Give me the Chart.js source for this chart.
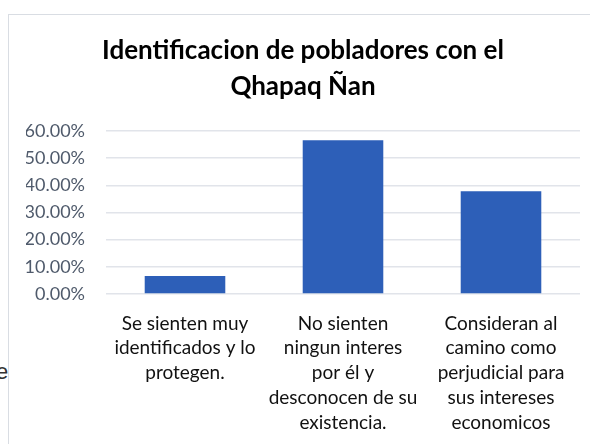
<!DOCTYPE html>
<html>
<head>
<meta charset="utf-8">
<script src="https://cdn.jsdelivr.net/npm/chart.js@4.4.1/dist/chart.umd.min.js"></script>
<style>
  html, body { margin: 0; padding: 0; background: #fff; }
  #wrap { position: relative; width: 590px; height: 444px; overflow: hidden; }
  #frame { position: absolute; left: 8px; top: 14px; width: 600px; height: 450px;
           border-left: 1px solid #d9dde3; border-top: 1px solid #d9dde3; box-sizing: border-box; }
  #stray { position: absolute; left: -4px; top: 359px; font: 22px "Liberation Sans", sans-serif; color: #333; }
  canvas { position: absolute; left: 0; top: 0; }
</style>
</head>
<body>
<div id="wrap">
  <div id="frame"></div>
  <span id="stray">e</span>
  <canvas id="c" width="590" height="444"></canvas>
</div>
<script>
const titleLines = ["Identificacion de pobladores con el", "Qhapaq Ñan"];
const categories = [
  ["Se sienten muy", "identificados y lo", "protegen."],
  ["No sienten", "ningun interes", "por él y", "desconocen de su", "existencia."],
  ["Consideran al", "camino como", "perjudicial para", "sus intereses", "economicos"]
];
const values = [6.6, 56.6, 37.8];
const yTicks = [0, 10, 20, 30, 40, 50, 60];

const FONT = "Lato, 'Open Sans', sans-serif";

new Chart(document.getElementById('c'), {
  type: 'bar',
  data: {
    labels: categories,
    datasets: [{
      data: values,
      backgroundColor: '#2d5fb8',
      borderWidth: 0,
      categoryPercentage: 1.0,
      barPercentage: 0.51
    }]
  },
  options: {
    responsive: false,
    animation: false,
    layout: { padding: { top: 0, right: 10, left: 26, bottom: 0 } },
    plugins: {
      legend: { display: false },
      tooltip: { enabled: false },
      title: {
        display: true,
        text: titleLines,
        color: '#000',
        font: { family: FONT, size: 26, weight: 'bold', lineHeight: 1.385 },
        padding: { top: 33, bottom: 26 }
      }
    },
    scales: {
      x: {
        grid: { display: false, drawTicks: false },
        border: { display: false },
        ticks: {
          color: '#111',
          font: { family: FONT, size: 19, lineHeight: 1.31 },
          padding: 17,
          maxRotation: 0,
          autoSkip: false
        },
        afterFit: (s) => { s.height = 150; }
      },
      y: {
        min: 0,
        max: 60,
        afterBuildTicks: (s) => { s.ticks = yTicks.map(v => ({ value: v })); },
        grid: { color: '#e1e4ea', lineWidth: 1.5, drawTicks: false },
        border: { display: false },
        ticks: {
          color: '#4f5a6b',
          font: { family: FONT, size: 18 },
          padding: 21,
          callback: (v) => v.toFixed(2) + '%'
        },
        afterFit: (s) => { s.width = 80; }
      }
    }
  }
});
</script>
</body>
</html>
